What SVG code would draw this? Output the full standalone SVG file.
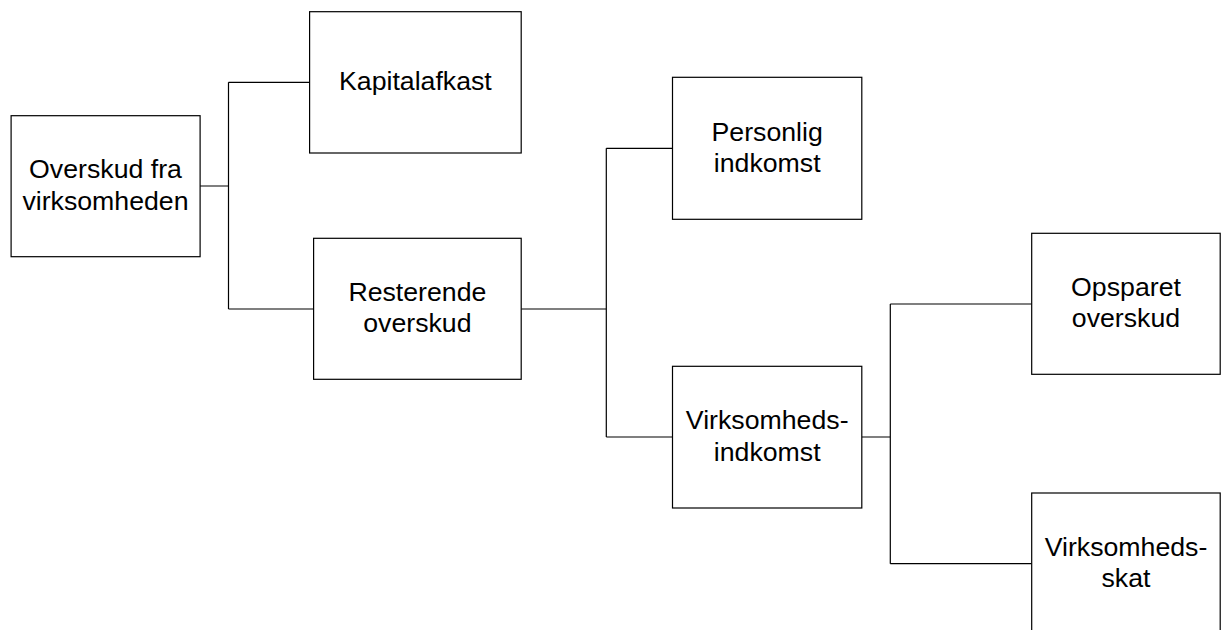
<svg xmlns="http://www.w3.org/2000/svg" width="1221" height="630" viewBox="0 0 1221 630">
  <style>
    .box { fill: #ffffff; stroke: #000000; stroke-width: 1.2; }
    .conn { fill: none; stroke: #000000; stroke-width: 1.2; }
    .lbl { font-family: "Liberation Sans", Arial, sans-serif; font-size: 26.7px; fill: #000000; text-anchor: middle; }
  </style>
  <rect x="0" y="0" width="1221" height="630" fill="#ffffff"/>

  <g id="connectors">
    <!-- Overskud fra virksomheden -> Kapitalafkast / Resterende overskud -->
    <path class="conn" d="M200,186 H228.5 M228.5,82.3 V309 M228.5,82.3 H309.6 M228.5,309 H313.6"/>
    <!-- Resterende overskud -> Personlig indkomst / Virksomhedsindkomst -->
    <path class="conn" d="M521.2,309 H606.3 M606.3,148.3 V437 M606.3,148.3 H672.5 M606.3,437 H672.5"/>
    <!-- Virksomhedsindkomst -> Opsparet overskud / Virksomhedsskat -->
    <path class="conn" d="M861.8,437 H890.3 M890.3,304 V563.7 M890.3,304 H1031.7 M890.3,563.7 H1031.7"/>
  </g>

  <g id="overskud">
    <rect class="box" x="11.1" y="115.7" width="189" height="141"/>
    <text class="lbl" x="105.5" y="178.3">Overskud fra</text>
    <text class="lbl" x="105.5" y="210">virksomheden</text>
  </g>

  <g id="kapitalafkast">
    <rect class="box" x="309.6" y="11.7" width="211.6" height="141.3"/>
    <text class="lbl" x="415.4" y="90">Kapitalafkast</text>
  </g>

  <g id="resterende">
    <rect class="box" x="313.6" y="238.3" width="207.6" height="141"/>
    <text class="lbl" x="417.4" y="301">Resterende</text>
    <text class="lbl" x="417.4" y="332">overskud</text>
  </g>

  <g id="personlig">
    <rect class="box" x="672.5" y="77.3" width="189.3" height="142"/>
    <text class="lbl" x="767.2" y="141">Personlig</text>
    <text class="lbl" x="767.2" y="172.3">indkomst</text>
  </g>

  <g id="virksomhedsindkomst">
    <rect class="box" x="672.5" y="366.3" width="189.3" height="141.7"/>
    <text class="lbl" x="767.2" y="429">Virksomheds-</text>
    <text class="lbl" x="767.2" y="461">indkomst</text>
  </g>

  <g id="opsparet">
    <rect class="box" x="1031.7" y="233.3" width="188.5" height="141"/>
    <text class="lbl" x="1126" y="296">Opsparet</text>
    <text class="lbl" x="1126" y="327.3">overskud</text>
  </g>

  <g id="virksomhedsskat">
    <rect class="box" x="1031.7" y="493" width="188.5" height="142"/>
    <text class="lbl" x="1126" y="555.7">Virksomheds-</text>
    <text class="lbl" x="1126" y="587.3">skat</text>
  </g>
</svg>
